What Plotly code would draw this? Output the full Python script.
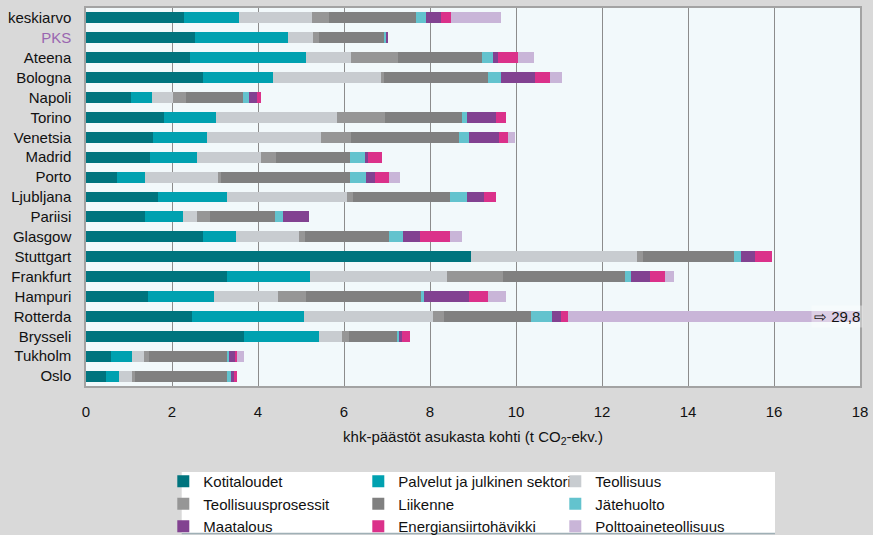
import plotly.graph_objects as go

cities = ["keskiarvo", "PKS", "Ateena", "Bologna", "Napoli", "Torino", "Venetsia",
          "Madrid", "Porto", "Ljubljana", "Pariisi", "Glasgow", "Stuttgart",
          "Frankfurt", "Hampuri", "Rotterda", "Brysseli", "Tukholm", "Oslo"]

kotitaloudet = [2.27, 2.53, 2.41, 2.71, 1.04, 1.81, 1.55, 1.48, 0.71, 1.67, 1.37, 2.71, 8.95, 3.27, 1.44, 2.46, 3.67, 0.57, 0.46]
palvelut = [1.28, 2.16, 2.70, 1.63, 0.49, 1.21, 1.26, 1.09, 0.67, 1.60, 0.88, 0.77, 0.00, 1.93, 1.53, 2.61, 1.75, 0.49, 0.30]
teollisuus = [1.70, 0.60, 1.05, 2.51, 0.49, 2.81, 2.65, 1.49, 1.68, 2.79, 0.33, 1.47, 3.86, 3.19, 1.49, 3.00, 0.54, 0.28, 0.30]
teollisuusprosessit = [0.40, 0.14, 1.09, 0.09, 0.30, 1.12, 0.70, 0.37, 0.07, 0.14, 0.30, 0.14, 0.14, 1.30, 0.65, 0.26, 0.16, 0.12, 0.09]
liikenne = [2.02, 1.51, 1.95, 2.42, 1.33, 1.79, 2.51, 1.70, 3.02, 2.26, 1.51, 1.95, 2.12, 2.84, 2.68, 2.02, 1.12, 1.81, 2.14]
jatehuolto = [0.23, 0.04, 0.26, 0.28, 0.14, 0.12, 0.23, 0.35, 0.35, 0.40, 0.19, 0.33, 0.16, 0.14, 0.07, 0.49, 0.05, 0.05, 0.09]
maatalous = [0.35, 0.05, 0.12, 0.81, 0.19, 0.67, 0.70, 0.07, 0.21, 0.40, 0.61, 0.40, 0.33, 0.44, 1.05, 0.21, 0.05, 0.14, 0.07]
energia = [0.23, 0.00, 0.46, 0.33, 0.09, 0.23, 0.21, 0.33, 0.33, 0.28, 0.00, 0.70, 0.40, 0.35, 0.44, 0.16, 0.19, 0.05, 0.05]
polttoaine = [1.16, 0.00, 0.37, 0.30, 0.00, 0.00, 0.16, 0.00, 0.26, 0.00, 0.00, 0.28, 0.00, 0.21, 0.42, 18.60, 0.00, 0.16, 0.00]

rotterdam_total = "29,8"

series = [
    ("Kotitaloudet", kotitaloudet, "#00747e", "c1", 150),
    ("Palvelut ja julkinen sektori", palvelut, "#00a1b0", "c2", 152),
    ("Teollisuus", teollisuus, "#c8ccd0", "c3", 140),
    ("Teollisuusprosessit", teollisuusprosessit, "#969696", "c1", 150),
    ("Liikenne", liikenne, "#808080", "c2", 152),
    ("Jätehuolto", jatehuolto, "#63c3ce", "c3", 140),
    ("Maatalous", maatalous, "#824291", "c1", 150),
    ("Energiansiirtohävikki", energia, "#db318a", "c2", 152),
    ("Polttoaineteollisuus", polttoaine, "#c9b5d8", "c3", 140),
]

FONT = "Liberation Sans, Arial, sans-serif"

fig = go.Figure()
for name, vals, color, grp, lw in series:
    fig.add_trace(go.Bar(
        y=cities, x=vals, name=name, orientation="h",
        marker=dict(color=color, line=dict(width=0)),
        legendgroup=grp, legendwidth=lw,
    ))

ticktext = [('<span style="color:#9966b0">%s</span>' % c) if c == "PKS" else c for c in cities]

fig.update_layout(
    width=873, height=535,
    barmode="stack", bargap=0.45,
    paper_bgcolor="#d9d9d9", plot_bgcolor="#f2f9fb",
    margin=dict(l=86, r=13, t=8, b=149, autoexpand=False),
    font=dict(family=FONT, size=15, color="#111111"),
    xaxis=dict(range=[0, 18], dtick=2, tick0=0, showgrid=True, gridcolor="#8c8c8c", gridwidth=1.3,
               zeroline=False, showline=True, linecolor="#a3a3a3", linewidth=1.5, mirror=True,
               ticks="outside", ticklen=11, tickcolor="rgba(0,0,0,0)",
               tickfont=dict(size=15, family=FONT),
               title=dict(text="khk-päästöt asukasta kohti (t CO<sub>2</sub>-ekv.)", standoff=13,
                          font=dict(size=15, family=FONT))),
    yaxis=dict(autorange="reversed", tickvals=cities, ticktext=ticktext,
               showline=True, linecolor="#a3a3a3", linewidth=1.5, mirror=True, showgrid=False,
               ticks="outside", ticklen=10, tickcolor="rgba(0,0,0,0)",
               tickfont=dict(size=15, family=FONT)),
    showlegend=True,
    legend=dict(orientation="h", traceorder="grouped", x=(163.3 - 86) / 774, xanchor="left",
                y=(386 - 465) / 378, yanchor="top", bgcolor="rgba(0,0,0,0)", borderwidth=0,
                font=dict(size=15, family=FONT, color="#111111"), itemclick=False),
    shapes=[
        dict(type="rect", xref="paper", yref="paper", layer="below",
             x0=(181.7 - 86) / 774, x1=(775 - 86) / 774, y0=(386 - 533) / 378, y1=(386 - 472) / 378,
             fillcolor="white", line=dict(width=0)),
        dict(type="line", xref="paper", yref="paper", layer="below",
             x0=(181.7 - 86) / 774, x1=(775 - 86) / 774, y0=(386 - 533.5) / 378, y1=(386 - 533.5) / 378,
             line=dict(color="#9fb0b6", width=1.5)),
    ],
    annotations=[
        dict(x=18, y="Rotterda", xref="x", yref="y", xanchor="right", showarrow=False,
             text="⇨ " + rotterdam_total, font=dict(size=15, family=FONT, color="#111111"),
             bgcolor="rgba(255,255,255,0.35)", borderpad=2, xshift=3),
    ],
)

fig.write_html("out.html", config={"displayModeBar": False},
               post_script="document.body.style.margin='0px';document.body.style.background='#d9d9d9';")
